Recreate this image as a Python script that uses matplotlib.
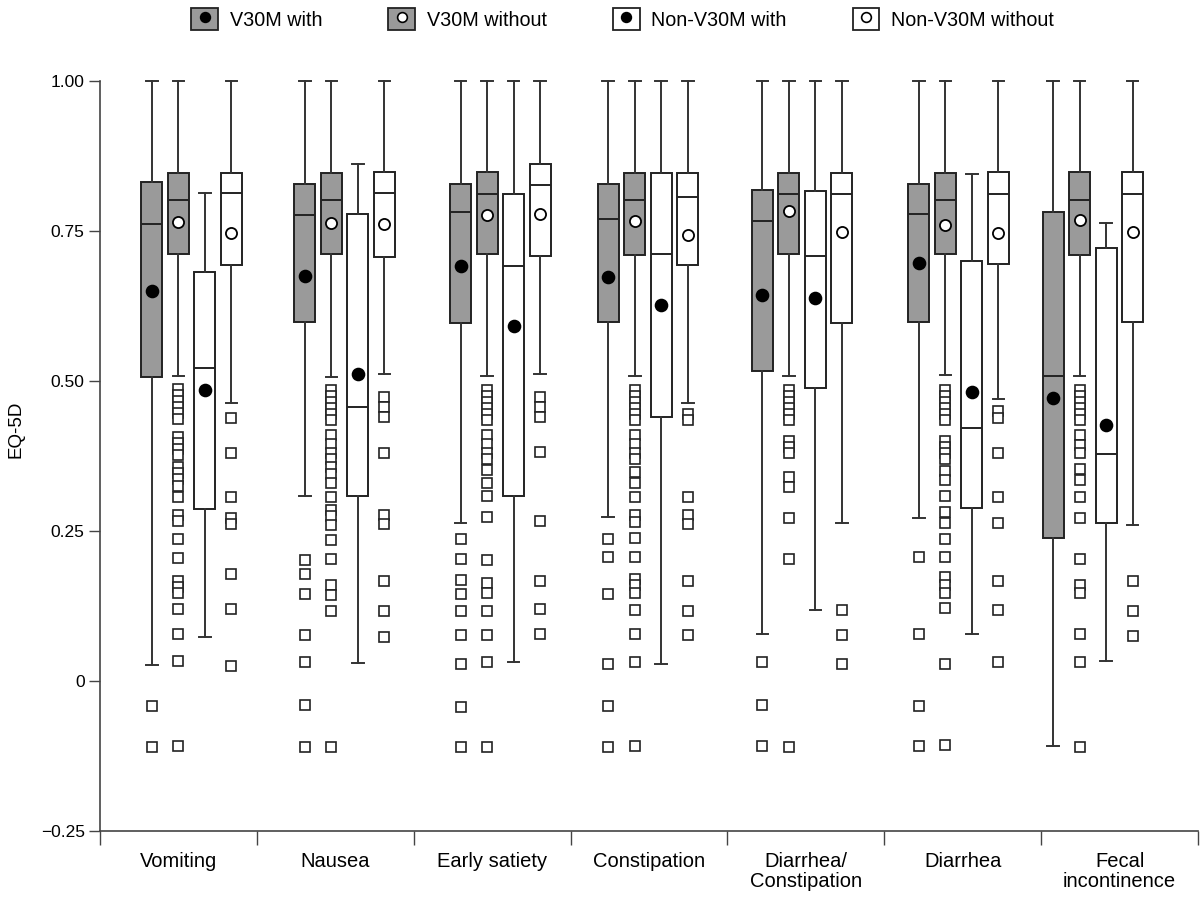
import matplotlib
matplotlib.use("Agg")
import matplotlib.pyplot as plt
from matplotlib.patches import Patch
from matplotlib.lines import Line2D
from matplotlib.legend_handler import HandlerTuple

plt.rcParams['font.family'] = ['Liberation Sans', 'DejaVu Sans']

categories = ["Vomiting", "Nausea", "Early satiety", "Constipation",
              "Diarrhea/\nConstipation", "Diarrhea", "Fecal\nincontinence"]
series = ["V30M with", "V30M without", "Non-V30M with", "Non-V30M without"]

# per series: lists over categories  [whislo, q1, med, q3, whishi, mean]
v30m_with = [
    [0.027, 0.507, 0.762, 0.832, 1.00, 0.650],
    [0.308, 0.598, 0.777, 0.829, 1.00, 0.675],
    [0.264, 0.597, 0.781, 0.829, 1.00, 0.691],
    [0.274, 0.599, 0.770, 0.828, 1.00, 0.674],
    [0.079, 0.516, 0.767, 0.818, 1.00, 0.644],
    [0.272, 0.598, 0.779, 0.829, 1.00, 0.697],
    [-0.109, 0.238, 0.509, 0.781, 1.00, 0.472],
]
v30m_without = [
    [0.508, 0.712, 0.801, 0.847, 1.00, 0.765],
    [0.507, 0.711, 0.802, 0.846, 1.00, 0.763],
    [0.508, 0.711, 0.812, 0.848, 1.00, 0.777],
    [0.509, 0.710, 0.802, 0.846, 1.00, 0.767],
    [0.509, 0.711, 0.811, 0.846, 1.00, 0.784],
    [0.510, 0.711, 0.802, 0.846, 1.00, 0.760],
    [0.509, 0.710, 0.802, 0.848, 1.00, 0.769],
]
non_with = [
    [0.073, 0.287, 0.521, 0.682, 0.813, 0.485],
    [0.030, 0.308, 0.457, 0.779, 0.862, 0.511],
    [0.032, 0.308, 0.691, 0.811, 1.00, 0.592],
    [0.028, 0.440, 0.711, 0.846, 1.00, 0.627],
    [0.118, 0.488, 0.709, 0.816, 1.00, 0.638],
    [0.079, 0.289, 0.421, 0.700, 0.845, 0.481],
    [0.033, 0.263, 0.378, 0.722, 0.763, 0.427],
]
non_without = [
    [0.464, 0.694, 0.814, 0.847, 1.00, 0.746],
    [0.511, 0.706, 0.813, 0.848, 1.00, 0.761],
    [0.511, 0.709, 0.826, 0.861, 1.00, 0.778],
    [0.464, 0.694, 0.806, 0.847, 1.00, 0.744],
    [0.263, 0.596, 0.811, 0.846, 1.00, 0.749],
    [0.470, 0.695, 0.812, 0.848, 1.00, 0.747],
    [0.260, 0.598, 0.811, 0.848, 1.00, 0.749],
]

# outliers
v30m_with_fliers = [
    [-0.041, -0.110],
    [0.202, 0.178, 0.145, 0.077, 0.032, -0.040, -0.110],
    [0.236, 0.204, 0.168, 0.145, 0.117, 0.077, 0.029, -0.043, -0.110],
    [0.236, 0.206, 0.145, 0.029, -0.042, -0.110],
    [0.031, -0.040, -0.108],
    [0.207, 0.079, -0.041, -0.108],
    [],
]
v30m_without_fliers = [
    [0.487, 0.477, 0.467, 0.457, 0.447, 0.437, 0.407, 0.397, 0.387, 0.377,
     0.357, 0.347, 0.337, 0.325, 0.307, 0.277, 0.267, 0.237, 0.205, 0.167,
     0.157, 0.147, 0.120, 0.078, 0.033, -0.108],
    [0.485, 0.475, 0.465, 0.455, 0.445, 0.435, 0.410, 0.395, 0.380, 0.370,
     0.357, 0.345, 0.330, 0.307, 0.285, 0.275, 0.260, 0.235, 0.203, 0.160,
     0.143, 0.117, -0.110],
    [0.485, 0.475, 0.465, 0.455, 0.445, 0.435, 0.410, 0.395, 0.380, 0.370,
     0.352, 0.330, 0.308, 0.274, 0.202, 0.163, 0.147, 0.116, 0.077, 0.032,
     -0.110],
    [0.485, 0.475, 0.465, 0.455, 0.445, 0.435, 0.410, 0.395, 0.380, 0.370,
     0.349, 0.330, 0.306, 0.277, 0.265, 0.238, 0.206, 0.170, 0.160, 0.147,
     0.118, 0.079, 0.031, -0.108],
    [0.485, 0.475, 0.465, 0.455, 0.445, 0.435, 0.400, 0.390, 0.380,
     0.340, 0.323, 0.271, 0.204, -0.110],
    [0.485, 0.475, 0.465, 0.455, 0.445, 0.435, 0.400, 0.390, 0.380, 0.370,
     0.350, 0.335, 0.308, 0.282, 0.263, 0.236, 0.206, 0.173, 0.160, 0.147,
     0.121, 0.029, -0.107],
    [0.485, 0.475, 0.465, 0.455, 0.445, 0.435, 0.410, 0.393, 0.380, 0.353,
     0.335, 0.307, 0.271, 0.204, 0.160, 0.147, 0.079, 0.031, -0.110],
]
non_with_fliers = [[], [], [], [], [], [], []]
non_without_fliers = [
    [0.438, 0.380, 0.307, 0.272, 0.262, 0.178, 0.120, 0.025],
    [0.473, 0.457, 0.440, 0.380, 0.277, 0.262, 0.166, 0.116, 0.073],
    [0.473, 0.457, 0.440, 0.382, 0.266, 0.166, 0.120, 0.078],
    [0.445, 0.435, 0.307, 0.277, 0.262, 0.166, 0.117, 0.076],
    [0.118, 0.076, 0.029],
    [0.450, 0.438, 0.380, 0.306, 0.264, 0.167, 0.118, 0.031],
    [0.166, 0.117, 0.075],
]

# layout: offset of first box within each category slot, and box spacing
first_offset = [0.331, 0.306, 0.299, 0.240, 0.223, 0.221, 0.076]
step = 0.169
box_w = 0.134

fig = plt.figure(figsize=(12, 8.99), dpi=100)
ax = fig.add_axes([100/1200, 68/899, 1098/1200, 750/899])

all_stats = [v30m_with, v30m_without, non_with, non_without]
all_fliers = [v30m_with_fliers, v30m_without_fliers, non_with_fliers, non_without_fliers]
fills = ["#9a9a9a", "#9a9a9a", "white", "white"]
mean_fc = ["black", "white", "black", "white"]
mean_ms = [8.5, 8.0, 8.5, 8.0]
edge = "#222222"

for k in range(4):
    stats = []
    pos = []
    for i in range(len(categories)):
        lo, q1, med, q3, hi, mean = all_stats[k][i]
        stats.append(dict(whislo=lo, q1=q1, med=med, q3=q3, whishi=hi,
                          mean=mean, fliers=all_fliers[k][i]))
        pos.append(i + first_offset[i] + k * step)
    art = ax.bxp(stats, positions=pos, widths=box_w, patch_artist=True,
                 showmeans=True, showfliers=True,
                 boxprops=dict(facecolor=fills[k], edgecolor=edge, linewidth=1.4),
                 medianprops=dict(color=edge, linewidth=1.4),
                 whiskerprops=dict(color="#333333", linewidth=1.4),
                 capprops=dict(color="#333333", linewidth=1.4),
                 capwidths=box_w * 0.55,
                 meanprops=dict(marker='o', markerfacecolor=mean_fc[k],
                                markeredgecolor='black', markeredgewidth=1.3,
                                markersize=mean_ms[k], linestyle='none'),
                 flierprops=dict(marker='s', markerfacecolor='white',
                                 markeredgecolor='#222222', markeredgewidth=1.2,
                                 markersize=7.2, linestyle='none'))
    for key in art:
        for a in art[key]:
            a.set_clip_on(False)

ax.set_xlim(0, len(categories))
ax.set_ylim(-0.25, 1.0)
ax.set_yticks([-0.25, 0, 0.25, 0.5, 0.75, 1.0])
ax.set_yticklabels(["\u22120.25", "0", "0.25", "0.50", "0.75", "1.00"], fontsize=12.5)
ax.set_ylabel("EQ-5D", fontsize=13.5)
ax.yaxis.set_label_coords(-0.069, 0.535)

ax.set_xticks(range(len(categories) + 1))
ax.set_xticklabels([])
ax.set_xticks([i + 0.5 for i in range(len(categories))], minor=True)
ax.set_xticklabels(categories, minor=True, fontsize=14.5, linespacing=1.1)
ax.tick_params(axis='x', which='major', direction='out', length=10, width=1, color='#444444')
ax.tick_params(axis='x', which='minor', length=0, pad=15)
ax.tick_params(axis='y', direction='out', length=8, width=1, color='#444444', pad=3)

for s in ['top', 'right']:
    ax.spines[s].set_visible(False)
for s in ['left', 'bottom']:
    ax.spines[s].set_color('#444444')
    ax.spines[s].set_linewidth(1.2)

handles = []
for k in range(4):
    p = Patch(facecolor=fills[k], edgecolor=edge, linewidth=1.3)
    m = Line2D([], [], marker='o', linestyle='none', markerfacecolor=mean_fc[k],
               markeredgecolor='black', markeredgewidth=1.2, markersize=7)
    handles.append((p, m))
fig.legend(handles, series, handler_map={tuple: HandlerTuple(ndivide=1, pad=0)},
           ncol=4, loc='center', bbox_to_anchor=(0.519, 1 - 19/899), frameon=False,
           fontsize=14.2, handlelength=1.35, handleheight=1.35, handletextpad=0.6,
           columnspacing=3.35, borderaxespad=0, borderpad=0)

fig.savefig("out.png", dpi=100)
